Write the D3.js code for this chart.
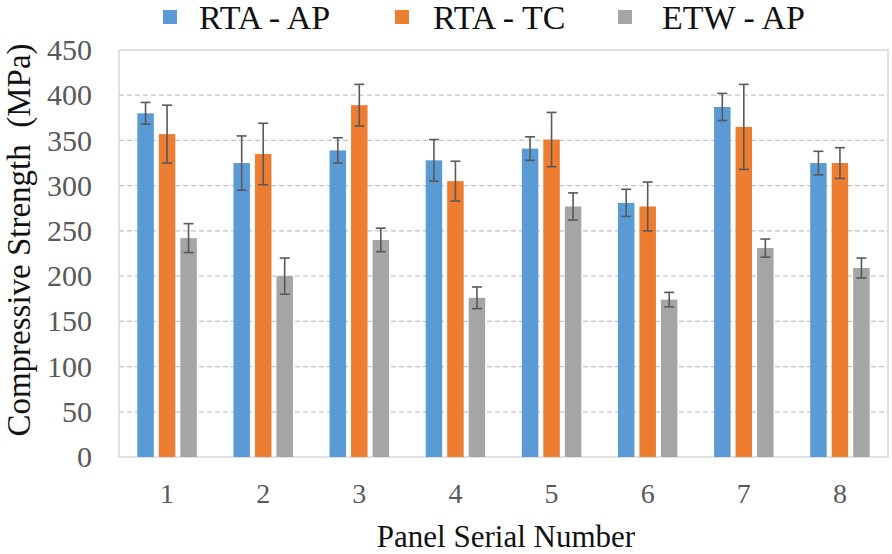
<!DOCTYPE html>
<html>
<head>
<meta charset="utf-8">
<script src="https://cdn.jsdelivr.net/npm/d3@7"></script>
<style>
  html, body { margin: 0; padding: 0; background: #fff; }
  svg { display: block; }
</style>
</head>
<body>
<svg id="chart" width="892" height="554"></svg>
<script>
// Compressive strength per panel, with standard deviations
const panels = ["1", "2", "3", "4", "5", "6", "7", "8"];
const seriesNames = ["RTA - AP", "RTA - TC", "ETW - AP"];
const seriesColors = ["#5B9BD5", "#ED7D31", "#A5A5A5"];

const rtaAP    = [380, 325, 339, 328, 341, 281, 387, 325];
const rtaAPErr = [12, 30, 14, 23, 13, 15, 15, 13];
const rtaTC    = [357, 335, 389, 305, 351, 277, 365, 325];
const rtaTCErr = [32, 34, 23, 22, 30, 27, 47, 17];
const etwAP    = [242, 200, 240, 176, 277, 174, 231, 209];
const etwAPErr = [16, 20, 13, 12, 15, 8, 10, 11];

const yTicks = [0, 50, 100, 150, 200, 250, 300, 350, 400, 450];

const seriesValues = [rtaAP, rtaTC, etwAP];
const seriesErrors = [rtaAPErr, rtaTCErr, etwAPErr];

const FONT = "'Liberation Serif'";

const svg = d3.select("#chart");
const plot = { left: 119, right: 888, top: 50, bottom: 457 };

const x0 = d3.scaleBand().domain(panels).range([plot.left, plot.right]);
const x1 = d3.scaleBand().domain(d3.range(seriesNames.length))
  .range([-29.75, 29.75]).paddingInner(0.233);
const y = d3.scaleLinear().domain([0, 450]).range([plot.bottom, plot.top]);

// dashed horizontal gridlines
svg.append("g").selectAll("line")
  .data(yTicks.filter(d => d > 0 && d < 450))
  .join("line")
  .attr("x1", plot.left).attr("x2", plot.right)
  .attr("y1", d => y(d)).attr("y2", d => y(d))
  .attr("stroke", "#c4c4c4").attr("stroke-width", 1.3)
  .attr("stroke-dasharray", "5,3");

// plot frame
svg.append("rect")
  .attr("x", plot.left).attr("y", plot.top)
  .attr("width", plot.right - plot.left).attr("height", plot.bottom - plot.top)
  .attr("fill", "none").attr("stroke", "#cfcfcf").attr("stroke-width", 1.2);

// bars and error bars per panel
const groups = svg.append("g").selectAll("g")
  .data(panels)
  .join("g")
  .attr("transform", d => `translate(${x0(d) + x0.bandwidth() / 2},0)`);

groups.each(function(p, i) {
  const g = d3.select(this);
  seriesValues.forEach((vals, s) => {
    g.append("rect")
      .attr("x", x1(s))
      .attr("y", y(vals[i]))
      .attr("width", x1.bandwidth())
      .attr("height", y(0) - y(vals[i]))
      .attr("fill", seriesColors[s]);
  });
  seriesValues.forEach((vals, s) => {
    const cx = x1(s) + x1.bandwidth() / 2;
    const hi = y(vals[i] + seriesErrors[s][i]);
    const lo = y(vals[i] - seriesErrors[s][i]);
    const eg = g.append("g").attr("stroke", "#595959").attr("stroke-width", 1.6);
    eg.append("line").attr("x1", cx).attr("x2", cx).attr("y1", hi).attr("y2", lo);
    eg.append("line").attr("x1", cx - 5).attr("x2", cx + 5).attr("y1", hi).attr("y2", hi);
    eg.append("line").attr("x1", cx - 5).attr("x2", cx + 5).attr("y1", lo).attr("y2", lo);
  });
});

// y axis labels
const yAxis = svg.append("g")
  .attr("transform", `translate(${plot.left},0)`)
  .call(d3.axisLeft(y).tickValues(yTicks).tickSize(0).tickPadding(27));
yAxis.attr("font-family", null);
yAxis.select(".domain").remove();
yAxis.selectAll("text")
  .style("font-family", FONT).style("font-size", "30px")
  .attr("fill", "#595959");

// x axis labels
const xAxis = svg.append("g")
  .attr("transform", `translate(0,${plot.bottom})`)
  .call(d3.axisBottom(x0).tickSize(0).tickPadding(0));
xAxis.attr("font-family", null);
xAxis.select(".domain").remove();
xAxis.selectAll("text")
  .attr("y", 46).attr("dy", null)
  .style("font-family", FONT).style("font-size", "28px")
  .attr("fill", "#595959");

// axis titles
svg.append("text")
  .attr("transform", "translate(30,240) rotate(-90)")
  .attr("text-anchor", "middle")
  .style("font-family", FONT).style("font-size", "33px")
  .style("white-space", "pre")
  .attr("fill", "#111")
  .text("Compressive Strength  (MPa)");

svg.append("text")
  .attr("x", 506).attr("y", 547)
  .attr("text-anchor", "middle")
  .style("font-family", FONT).style("font-size", "31px")
  .attr("fill", "#111")
  .text("Panel Serial Number");

// legend
const legendSwatchX = [163, 395, 618];
const legendTextX = [199, 433, 662];
const legend = svg.append("g").selectAll("g")
  .data(seriesNames)
  .join("g");
legend.append("rect")
  .attr("x", (d, i) => legendSwatchX[i]).attr("y", 10)
  .attr("width", 14).attr("height", 14)
  .attr("fill", (d, i) => seriesColors[i]);
legend.append("text")
  .attr("x", (d, i) => legendTextX[i]).attr("y", 29)
  .style("font-family", FONT).style("font-size", "34px")
  .attr("fill", "#111")
  .text(d => d);
</script>
</body>
</html>
